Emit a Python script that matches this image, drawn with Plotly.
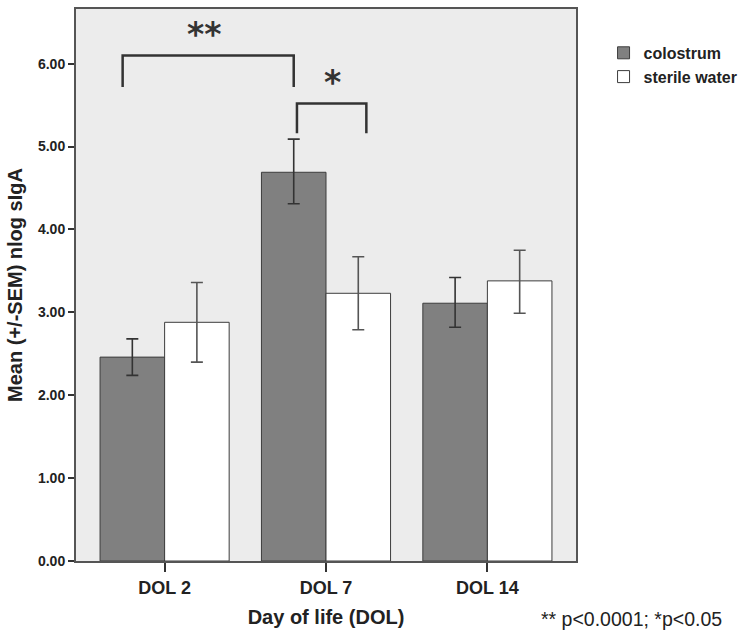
import plotly.graph_objects as go

categories = ["DOL 2", "DOL 7", "DOL 14"]
colostrum_mean = [2.46, 4.69, 3.11]
colostrum_hi = [2.68, 5.09, 3.42]
colostrum_lo = [2.24, 4.31, 2.82]
water_mean = [2.88, 3.23, 3.38]
water_hi = [3.36, 3.67, 3.75]
water_lo = [2.40, 2.79, 2.99]
y_ticks = [0, 1, 2, 3, 4, 5, 6]
y_tick_labels = ["0.00", "1.00", "2.00", "3.00", "4.00", "5.00", "6.00"]

FONT = "Liberation Sans, Arial, sans-serif"
STAR_FONT = "DejaVu Sans, sans-serif"

fig = go.Figure()
fig.add_trace(go.Bar(
    x=categories, y=colostrum_mean, name="colostrum",
    marker=dict(color="#808080", line=dict(color="#3c3c3c", width=1)),
    error_y=dict(type="data", symmetric=False,
                 array=[h - m for h, m in zip(colostrum_hi, colostrum_mean)],
                 arrayminus=[m - l for m, l in zip(colostrum_mean, colostrum_lo)],
                 color="#333333", thickness=1.6, width=6),
))
fig.add_trace(go.Bar(
    x=categories, y=water_mean, name="sterile water",
    marker=dict(color="#ffffff", line=dict(color="#3c3c3c", width=1)),
    error_y=dict(type="data", symmetric=False,
                 array=[h - m for h, m in zip(water_hi, water_mean)],
                 arrayminus=[m - l for m, l in zip(water_mean, water_lo)],
                 color="#555555", thickness=1.6, width=6),
))

# significance brackets
brk = dict(color="#333333", width=2.5)
fig.add_shape(type="path", xref="x", yref="y",
              path="M -0.26 5.72 L -0.26 6.10 L 0.80 6.10 L 0.80 5.72", line=brk)
fig.add_shape(type="path", xref="x", yref="y",
              path="M 0.82 5.16 L 0.82 5.52 L 1.25 5.52 L 1.25 5.16", line=brk)
fig.add_annotation(x=0.25, y=6.36, xref="x", yref="y", text="**", showarrow=False,
                   yshift=-1,
                   font=dict(family=STAR_FONT, size=33, color="#333333", weight="bold"))
fig.add_annotation(x=1.04, y=5.78, xref="x", yref="y", text="*", showarrow=False,
                   yshift=-1,
                   font=dict(family=STAR_FONT, size=33, color="#333333", weight="bold"))
fig.add_annotation(x=(734 - 76) / 508, y=-(619 - 561) / 554, xref="paper", yref="paper",
                   text="** p<0.0001; *p<0.05", showarrow=False,
                   xanchor="right", yanchor="middle",
                   font=dict(family=FONT, size=19.5, color="#222222"))

fig.update_layout(
    width=750, height=638,
    margin=dict(l=76, r=166, t=7, b=77),
    paper_bgcolor="#ffffff", plot_bgcolor="#ececec",
    barmode="group", bargap=0.2, bargroupgap=0,
    font=dict(family=FONT, color="#222222"),
    legend=dict(x=(612 - 76) / 508, y=1 - (34 - 7) / 554, xanchor="left", yanchor="top",
                font=dict(family=FONT, size=16, color="#222222", weight="bold"),
                itemwidth=30, tracegroupgap=0, bgcolor="rgba(0,0,0,0)"),
    showlegend=True,
)
fig.update_xaxes(
    range=[-0.549, 2.549], showgrid=False,
    showline=True, mirror=True, linecolor="#555555", linewidth=2,
    ticks="outside", ticklen=9, tickcolor="#333333", tickwidth=1.5,
    tickfont=dict(family=FONT, size=18, color="#222222", weight="bold"),
    title=dict(text="Day of life (DOL)", standoff=13,
               font=dict(family=FONT, size=20, color="#222222", weight="bold")),
)
fig.update_yaxes(
    range=[0, 6.66], showgrid=False, zeroline=False,
    showline=True, mirror=True, linecolor="#555555", linewidth=2,
    tickvals=y_ticks, ticktext=y_tick_labels,
    ticks="outside", ticklen=6, tickcolor="#333333", tickwidth=1.5,
    tickfont=dict(family=FONT, size=14, color="#222222", weight="bold"),
    title=dict(text="Mean (+/-SEM) nlog sIgA", standoff=10,
               font=dict(family=FONT, size=20, color="#222222", weight="bold")),
)

fig.write_html("out.html", config={"displayModeBar": False},
               post_script="document.body.style.margin='0';")
